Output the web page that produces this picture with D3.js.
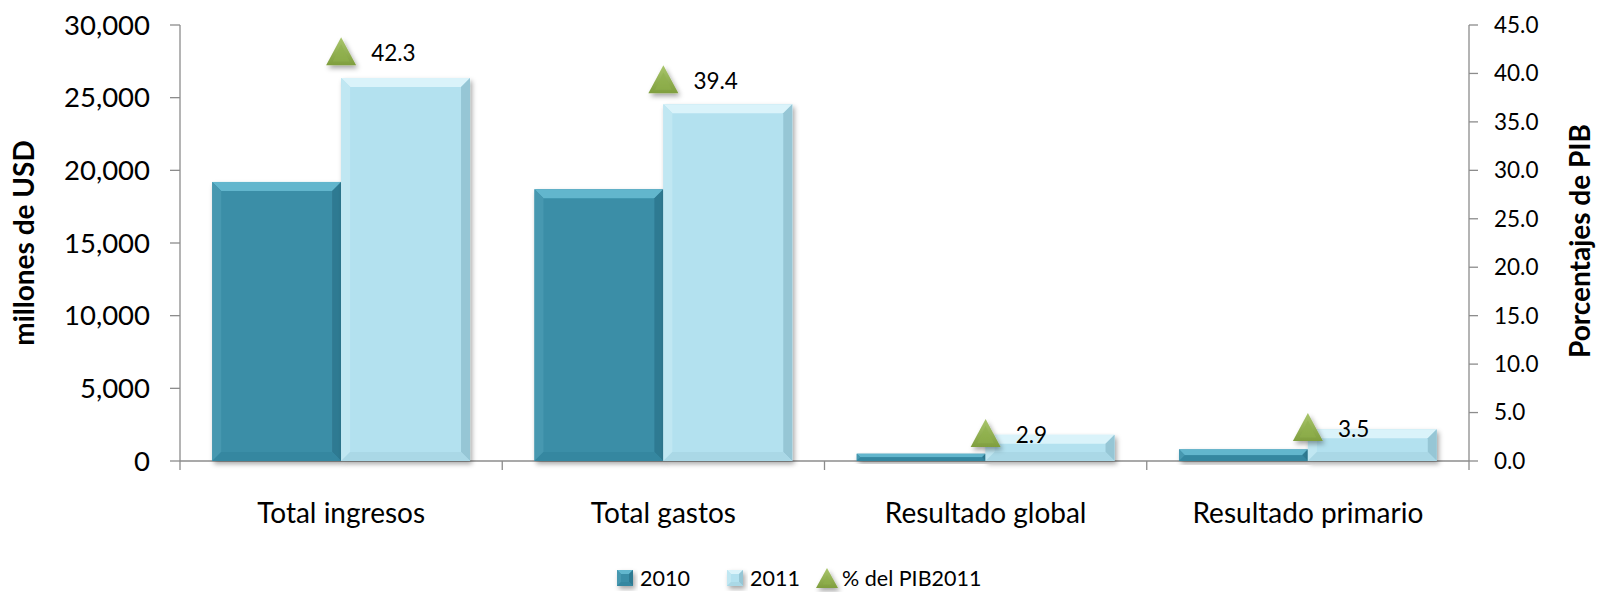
<!DOCTYPE html>
<html><head><meta charset="utf-8">
<script src="https://cdn.jsdelivr.net/npm/d3@7"></script>
<style>
body{margin:0;background:#fff;}
svg{display:block;font-family:Lato,"Open Sans",sans-serif;}
</style></head>
<body><svg id="c" width="1598" height="592"></svg>
<script>
const categories = ["Total ingresos","Total gastos","Resultado global","Resultado primario"];
const seriesNames = ["2010","2011"];
const values2010 = [19200, 18700, 500, 800];
const values2011 = [26350, 24550, 1800, 2180];
const pctPIB2011 = [42.3, 39.4, 2.9, 3.5];
const leftTicks = [0,5000,10000,15000,20000,25000,30000];
const rightTicks = [0,5,10,15,20,25,30,35,40,45];
const lineName = "% del PIB2011";

const svg = d3.select("#c");
const L = 180, R = 1469, T = 25, B = 461;
const x = d3.scaleBand().domain(categories).range([L, R]).padding(0);
const xs = d3.scaleBand().domain(seriesNames).range([0.1*x.bandwidth(), 0.9*x.bandwidth()]).padding(0);
const y = d3.scaleLinear().domain([0,30000]).range([B,T]);
const y2 = d3.scaleLinear().domain([0,45]).range([B,T]);

const defs = svg.append("defs");
const f = defs.append("filter").attr("id","sh").attr("x","-20%").attr("y","-20%").attr("width","150%").attr("height","150%");
f.append("feDropShadow").attr("dx",2).attr("dy",3).attr("stdDeviation",2.5).attr("flood-color","#000").attr("flood-opacity",0.35);
const g1 = defs.append("linearGradient").attr("id","tri").attr("x1",0).attr("y1",0).attr("x2",0).attr("y2",1);
g1.append("stop").attr("offset","0%").attr("stop-color","#a9c66c");
g1.append("stop").attr("offset","100%").attr("stop-color","#7f9e3e");

const axisColor = "#8c8c8c";
const pal = {
  "2010": {base:"#3a8ea7", top:"#62b6cd", left:"#4698b0", right:"#2f7a92", bottom:"#3587a0"},
  "2011": {base:"#b3e1ef", top:"#daf3fa", left:"#c0e7f2", right:"#96c6d5", bottom:"#aad8e6"}
};

const ax = svg.append("g").attr("stroke",axisColor).attr("stroke-width",1.3).attr("fill","none");
ax.append("line").attr("x1",L).attr("x2",L).attr("y1",T).attr("y2",B+9);
ax.append("line").attr("x1",R).attr("x2",R).attr("y1",T).attr("y2",B+9);
ax.append("line").attr("x1",L).attr("x2",R).attr("y1",B).attr("y2",B);
leftTicks.forEach(t=>ax.append("line").attr("x1",L-10).attr("x2",L).attr("y1",y(t)).attr("y2",y(t)));
rightTicks.forEach(t=>ax.append("line").attr("x1",R).attr("x2",R+9).attr("y1",y2(t)).attr("y2",y2(t)));
categories.forEach((c,i)=>{ if(i>0){ const xx=x(c); ax.append("line").attr("x1",xx).attr("x2",xx).attr("y1",B).attr("y2",B+9);} });

const fmt = d3.format(",");
svg.append("g").selectAll("text").data(leftTicks).join("text")
  .attr("x",L-30).attr("y",d=>y(d)).attr("dy","0.35em").attr("text-anchor","end")
  .attr("font-size",27.5).attr("fill","#000").text(d=>fmt(d));
svg.append("g").selectAll("text").data(rightTicks).join("text")
  .attr("x",R+25).attr("y",d=>y2(d)).attr("dy","0.35em").attr("text-anchor","start")
  .attr("font-size",22.5).attr("fill","#000").text(d=>d.toFixed(1));
svg.append("g").selectAll("text").data(categories).join("text")
  .attr("x",d=>x(d)+x.bandwidth()/2).attr("y",513).attr("dy","0.35em").attr("text-anchor","middle")
  .attr("font-size",28).attr("fill","#000").text(d=>d);

svg.append("text").attr("transform",`translate(34,${(T+B)/2}) rotate(-90)`).attr("text-anchor","middle")
  .attr("font-size",28).attr("font-weight","bold").text("millones de USD");
svg.append("text").attr("transform",`translate(1590,${(T+B)/2 - 2}) rotate(-90)`).attr("text-anchor","middle")
  .attr("font-size",28).attr("font-weight","bold").text("Porcentajes de PIB");

function bevelBar(g, x0, y0, w, h, p, bmax){
  const b = Math.min(bmax, h/2, w/2);
  const gg = g.append("g").attr("filter","url(#sh)");
  gg.append("rect").attr("x",x0).attr("y",y0).attr("width",w).attr("height",h).attr("fill",p.base);
  const x1=x0+w, y1=y0+h;
  gg.append("polygon").attr("points",[[x0,y0],[x1,y0],[x1-b,y0+b],[x0+b,y0+b]].join(" ")).attr("fill",p.top);
  gg.append("polygon").attr("points",[[x0,y0],[x0+b,y0+b],[x0+b,y1-b],[x0,y1]].join(" ")).attr("fill",p.left);
  gg.append("polygon").attr("points",[[x1,y0],[x1,y1],[x1-b,y1-b],[x1-b,y0+b]].join(" ")).attr("fill",p.right);
  gg.append("polygon").attr("points",[[x0,y1],[x0+b,y1-b],[x1-b,y1-b],[x1,y1]].join(" ")).attr("fill",p.bottom);
}
const bars = svg.append("g");
const series = {"2010":values2010,"2011":values2011};
seriesNames.forEach(s=>{
  categories.forEach((c,i)=>{
    const v = series[s][i];
    bevelBar(bars, x(c)+xs(s), y(v), xs.bandwidth(), y(0)-y(v), pal[s], 9);
  });
});

function tri(g, cx, cy, w, h){
  const b = 6;
  const gg = g.append("g").attr("filter","url(#sh)");
  gg.append("polygon").attr("points",[[cx,cy-h/2],[cx+w/2,cy+h/2],[cx-w/2,cy+h/2]].join(" ")).attr("fill","url(#tri)");
  gg.append("polygon").attr("points",[[cx,cy-h/2+b*1.2],[cx+w/2-b*1.1,cy+h/2-b*0.6],[cx-w/2+b*1.1,cy+h/2-b*0.6]].join(" ")).attr("fill","#8fb04c").attr("opacity",0.6);
}
const tg = svg.append("g");
categories.forEach((c,i)=>{
  const cx = x(c)+x.bandwidth()/2, cy = y2(pctPIB2011[i]);
  tri(tg, cx, cy, 30, 28);
  tg.append("text").attr("x",cx+30).attr("y",cy+2).attr("dy","0.35em").attr("font-size",22.5).attr("fill","#000")
    .text(pctPIB2011[i].toFixed(1));
});

const lg = svg.append("g");
const ly = 578;
bevelBar(lg, 617, ly-8, 16, 16, pal["2010"], 4);
lg.append("text").attr("x",640).attr("y",ly).attr("dy","0.35em").attr("font-size",21.5).text(seriesNames[0]);
bevelBar(lg, 727, ly-8, 16, 16, pal["2011"], 4);
lg.append("text").attr("x",750).attr("y",ly).attr("dy","0.35em").attr("font-size",21.5).text(seriesNames[1]);
tri(lg, 827, ly, 22, 20);
lg.append("text").attr("x",842).attr("y",ly).attr("dy","0.35em").attr("font-size",21.5).text(lineName);
</script></body></html>
